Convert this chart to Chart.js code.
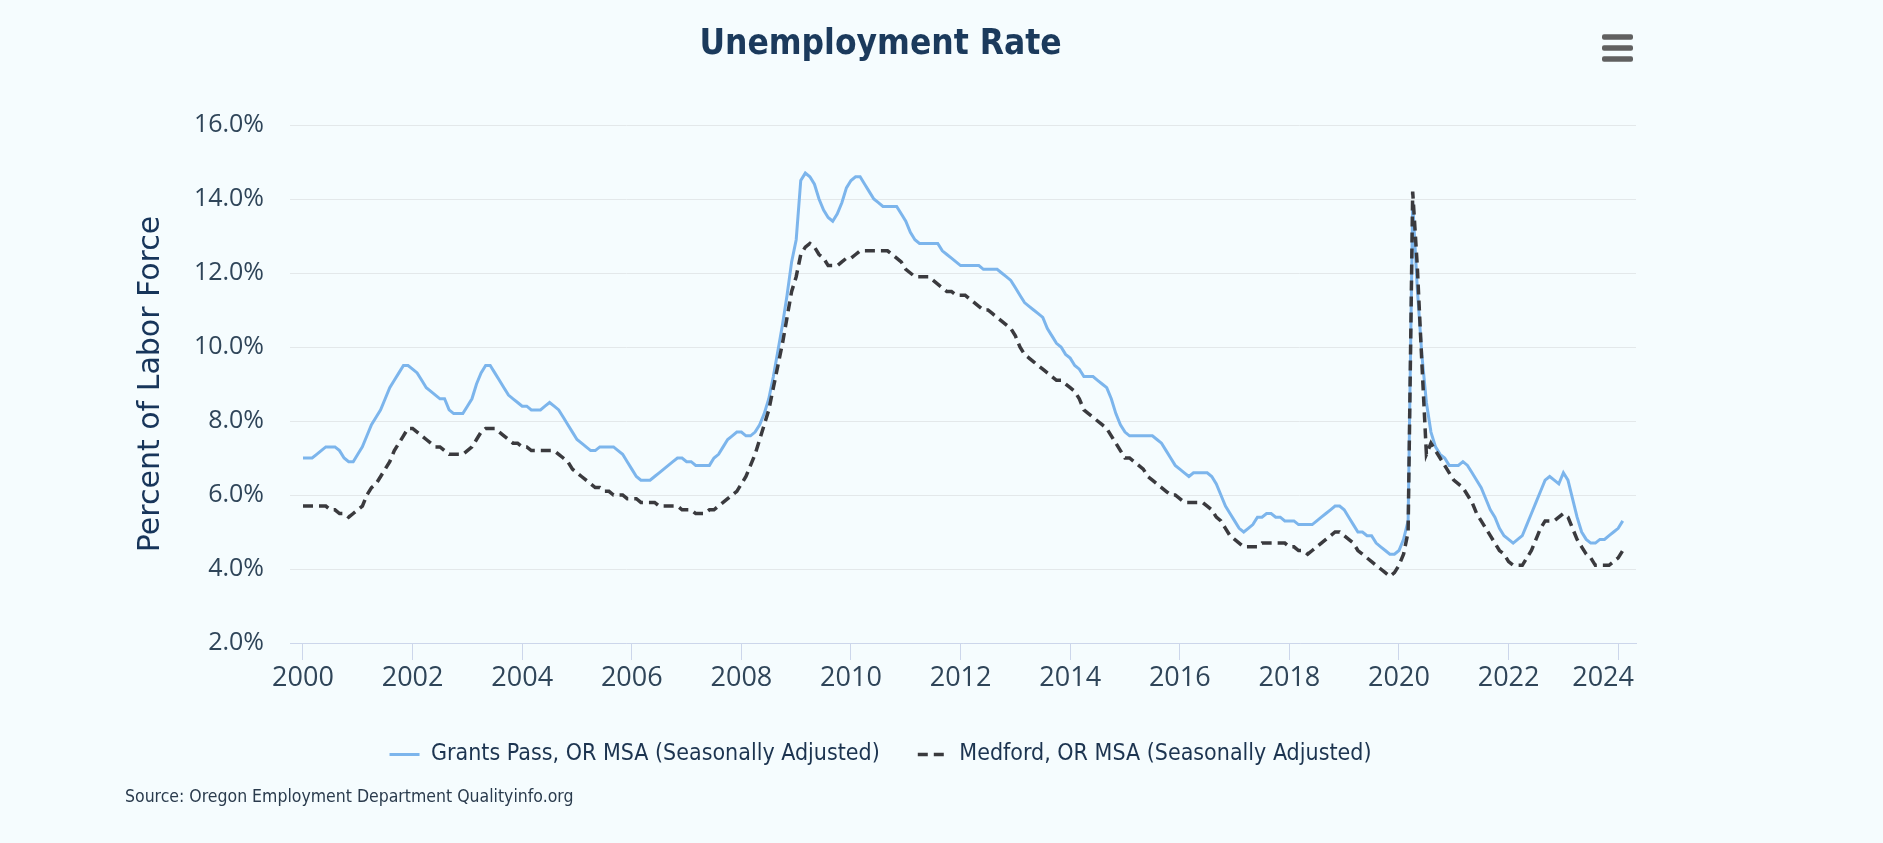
<!DOCTYPE html>
<html>
<head>
<meta charset="utf-8">
<script src="https://cdn.jsdelivr.net/npm/chart.js@4.4.1/dist/chart.umd.min.js"></script>
<style>
  html, body { margin: 0; padding: 0; background: #f5fcfe; }
  #wrap { width: 1883px; height: 843px; position: relative; }
  canvas { display: block; }
</style>
</head>
<body>
<div id="wrap"><canvas id="c" width="1883" height="843"></canvas></div>
<script>
// ---- Data (monthly, Jan 2000 .. Feb 2024) ----
const startYear = 2000;
const seriesNames = [
  'Grants Pass, OR MSA (Seasonally Adjusted)',
  'Medford, OR MSA (Seasonally Adjusted)'
];
const grantsPass = [
  7.0, 7.0, 7.0, 7.1, 7.2, 7.3, 7.3, 7.3, 7.2, 7.0, 6.9, 6.9,        // 2000
  7.1, 7.3, 7.6, 7.9, 8.1, 8.3, 8.6, 8.9, 9.1, 9.3, 9.5, 9.5,        // 2001
  9.4, 9.3, 9.1, 8.9, 8.8, 8.7, 8.6, 8.6, 8.3, 8.2, 8.2, 8.2,        // 2002
  8.4, 8.6, 9.0, 9.3, 9.5, 9.5, 9.3, 9.1, 8.9, 8.7, 8.6, 8.5,        // 2003
  8.4, 8.4, 8.3, 8.3, 8.3, 8.4, 8.5, 8.4, 8.3, 8.1, 7.9, 7.7,        // 2004
  7.5, 7.4, 7.3, 7.2, 7.2, 7.3, 7.3, 7.3, 7.3, 7.2, 7.1, 6.9,        // 2005
  6.7, 6.5, 6.4, 6.4, 6.4, 6.5, 6.6, 6.7, 6.8, 6.9, 7.0, 7.0,        // 2006
  6.9, 6.9, 6.8, 6.8, 6.8, 6.8, 7.0, 7.1, 7.3, 7.5, 7.6, 7.7,        // 2007
  7.7, 7.6, 7.6, 7.7, 7.9, 8.2, 8.6, 9.2, 9.9, 10.6, 11.4, 12.3,     // 2008
  12.9, 14.5, 14.7, 14.6, 14.4, 14.0, 13.7, 13.5, 13.4, 13.6, 13.9, 14.3, // 2009
  14.5, 14.6, 14.6, 14.4, 14.2, 14.0, 13.9, 13.8, 13.8, 13.8, 13.8, 13.6, // 2010
  13.4, 13.1, 12.9, 12.8, 12.8, 12.8, 12.8, 12.8, 12.6, 12.5, 12.4, 12.3, // 2011
  12.2, 12.2, 12.2, 12.2, 12.2, 12.1, 12.1, 12.1, 12.1, 12.0, 11.9, 11.8, // 2012
  11.6, 11.4, 11.2, 11.1, 11.0, 10.9, 10.8, 10.5, 10.3, 10.1, 10.0, 9.8,  // 2013
  9.7, 9.5, 9.4, 9.2, 9.2, 9.2, 9.1, 9.0, 8.9, 8.6, 8.2, 7.9,        // 2014
  7.7, 7.6, 7.6, 7.6, 7.6, 7.6, 7.6, 7.5, 7.4, 7.2, 7.0, 6.8,        // 2015
  6.7, 6.6, 6.5, 6.6, 6.6, 6.6, 6.6, 6.5, 6.3, 6.0, 5.7, 5.5,        // 2016
  5.3, 5.1, 5.0, 5.1, 5.2, 5.4, 5.4, 5.5, 5.5, 5.4, 5.4, 5.3,        // 2017
  5.3, 5.3, 5.2, 5.2, 5.2, 5.2, 5.3, 5.4, 5.5, 5.6, 5.7, 5.7,        // 2018
  5.6, 5.4, 5.2, 5.0, 5.0, 4.9, 4.9, 4.7, 4.6, 4.5, 4.4, 4.4,        // 2019
  4.5, 4.8, 5.3, 13.9, 11.6, 9.8, 8.5, 7.7, 7.3, 7.1, 7.0, 6.8,      // 2020
  6.8, 6.8, 6.9, 6.8, 6.6, 6.4, 6.2, 5.9, 5.6, 5.4, 5.1, 4.9,        // 2021
  4.8, 4.7, 4.8, 4.9, 5.2, 5.5, 5.8, 6.1, 6.4, 6.5, 6.4, 6.3,        // 2022
  6.6, 6.4, 5.9, 5.4, 5.0, 4.8, 4.7, 4.7, 4.8, 4.8, 4.9, 5.0,        // 2023
  5.1, 5.3                                                           // 2024
];
const medford = [
  5.7, 5.7, 5.7, 5.7, 5.7, 5.7, 5.6, 5.6, 5.5, 5.5, 5.4, 5.5,        // 2000
  5.6, 5.7, 6.0, 6.2, 6.3, 6.5, 6.7, 6.9, 7.2, 7.4, 7.6, 7.8,        // 2001
  7.8, 7.7, 7.6, 7.5, 7.4, 7.3, 7.3, 7.2, 7.1, 7.1, 7.1, 7.1,        // 2002
  7.2, 7.3, 7.5, 7.7, 7.8, 7.8, 7.8, 7.7, 7.6, 7.5, 7.4, 7.4,        // 2003
  7.3, 7.3, 7.2, 7.2, 7.2, 7.2, 7.2, 7.2, 7.1, 7.0, 6.9, 6.7,        // 2004
  6.6, 6.5, 6.4, 6.3, 6.2, 6.2, 6.1, 6.1, 6.0, 6.0, 6.0, 5.9,        // 2005
  5.9, 5.9, 5.8, 5.8, 5.8, 5.8, 5.7, 5.7, 5.7, 5.7, 5.7, 5.6,        // 2006
  5.6, 5.6, 5.5, 5.5, 5.5, 5.6, 5.6, 5.7, 5.8, 5.9, 6.0, 6.1,        // 2007
  6.3, 6.5, 6.8, 7.1, 7.5, 7.9, 8.3, 8.9, 9.5, 10.1, 10.8, 11.5,     // 2008
  11.9, 12.5, 12.7, 12.8, 12.7, 12.5, 12.4, 12.2, 12.2, 12.2, 12.3, 12.4, // 2009
  12.4, 12.5, 12.6, 12.6, 12.6, 12.6, 12.6, 12.6, 12.6, 12.5, 12.4, 12.3, // 2010
  12.1, 12.0, 11.9, 11.9, 11.9, 11.9, 11.8, 11.7, 11.6, 11.5, 11.5, 11.4, // 2011
  11.4, 11.4, 11.3, 11.2, 11.1, 11.0, 11.0, 10.9, 10.8, 10.7, 10.6, 10.5, // 2012
  10.3, 10.0, 9.8, 9.7, 9.6, 9.5, 9.4, 9.3, 9.2, 9.1, 9.1, 9.0,      // 2013
  8.9, 8.8, 8.6, 8.3, 8.2, 8.1, 8.0, 7.9, 7.8, 7.6, 7.4, 7.2,        // 2014
  7.0, 7.0, 6.9, 6.8, 6.7, 6.5, 6.4, 6.3, 6.2, 6.1, 6.0, 6.0,        // 2015
  5.9, 5.8, 5.8, 5.8, 5.8, 5.8, 5.7, 5.6, 5.4, 5.3, 5.1, 4.9,        // 2016
  4.8, 4.7, 4.6, 4.6, 4.6, 4.6, 4.7, 4.7, 4.7, 4.7, 4.7, 4.7,        // 2017
  4.6, 4.6, 4.5, 4.5, 4.4, 4.5, 4.6, 4.7, 4.8, 4.9, 5.0, 5.0,        // 2018
  4.9, 4.8, 4.7, 4.5, 4.4, 4.3, 4.2, 4.1, 4.0, 3.9, 3.8, 3.9,        // 2019
  4.1, 4.4, 5.0, 14.2, 12.2, 9.6, 7.1, 7.4, 7.2, 7.0, 6.8, 6.6,      // 2020
  6.4, 6.3, 6.2, 6.0, 5.8, 5.5, 5.3, 5.1, 4.9, 4.7, 4.5, 4.4,        // 2021
  4.2, 4.1, 4.1, 4.1, 4.3, 4.5, 4.8, 5.1, 5.3, 5.3, 5.3, 5.4,        // 2022
  5.5, 5.4, 5.1, 4.8, 4.6, 4.4, 4.3, 4.1, 4.1, 4.1, 4.1, 4.2,        // 2023
  4.3, 4.5                                                           // 2024
];
const xTickYears = [2000, 2002, 2004, 2006, 2008, 2010, 2012, 2014, 2016, 2018, 2020, 2022, 2024];
const yTickValues = [2, 4, 6, 8, 10, 12, 14, 16];
const titleText = 'Unemployment Rate';
const yAxisTitle = 'Percent of Labor Force';
const sourceText = 'Source: Oregon Employment Department Qualityinfo.org';

// ---- Build ----
const toPoints = arr => arr.map((v, i) => ({ x: startYear + i / 12, y: v }));

const bgPlugin = {
  id: 'bg',
  beforeDraw(chart) {
    const ctx = chart.ctx;
    ctx.save();
    ctx.fillStyle = '#f5fcfe';
    ctx.fillRect(0, 0, chart.width, chart.height);
    ctx.restore();
  }
};
// keep the last x label inside the plot edge (like the original's justified label)
const justifyLastXLabel = {
  id: 'justifyLastXLabel',
  beforeDraw(chart) {
    const sc = chart.scales.x;
    const items = sc.getLabelItems(chart.chartArea);
    if (!items || !items.length) return;
    const last = items[items.length - 1];
    const ctx = chart.ctx;
    ctx.save();
    ctx.font = last.font.string;
    const w = ctx.measureText(String(last.label)).width;
    ctx.restore();
    const maxX = sc.right - w / 2 - 2;
    if (last.options.translation[0] > maxX) last.options.translation[0] = maxX;
  }
};
const menuPlugin = {
  id: 'menuIcon',
  afterDraw(chart) {
    const ctx = chart.ctx;
    const right = chart.chartArea.right - 3;
    ctx.save();
    ctx.fillStyle = '#606060';
    [37, 48, 59].forEach(cy => {
      ctx.beginPath();
      ctx.roundRect(right - 31, cy - 2.75, 31, 5.5, 2);
      ctx.fill();
    });
    ctx.restore();
  }
};

new Chart(document.getElementById('c'), {
  type: 'line',
  data: {
    datasets: [
      {
        label: seriesNames[0],
        data: toPoints(grantsPass),
        borderColor: '#7cb5ec',
        backgroundColor: '#7cb5ec',
        borderWidth: 3,
        pointRadius: 0,
        pointHoverRadius: 0,
        tension: 0,
        order: 1
      },
      {
        label: seriesNames[1],
        data: toPoints(medford),
        borderColor: '#3a3a3e',
        backgroundColor: '#3a3a3e',
        borderWidth: 3.5,
        borderDash: [10, 6],
        pointRadius: 0,
        pointHoverRadius: 0,
        tension: 0,
        order: 0
      }
    ]
  },
  options: {
    responsive: false,
    devicePixelRatio: 1,
    animation: false,
    events: [],
    layout: { padding: { left: 125, right: 247, top: 0, bottom: 0 } },
    scales: {
      x: {
        type: 'linear',
        min: 1999.763,
        max: 2024.325,
        afterBuildTicks: axis => { axis.ticks = xTickYears.map(v => ({ value: v })); },
        afterFit: scale => { scale.height = 62; },
        grid: { drawOnChartArea: false, drawTicks: true, tickLength: 17, color: '#ccd6eb' },
        border: { display: true, color: '#ccd6eb', width: 1 },
        ticks: {
          padding: 2,
          maxRotation: 0,
          autoSkip: false,
          color: '#2f4559',
          font: { family: "'Open Sans', sans-serif", size: 27 },
          callback: v => String(v)
        }
      },
      y: {
        min: 2,
        max: 16,
        afterBuildTicks: axis => { axis.ticks = yTickValues.map(v => ({ value: v })); },
        afterFit: scale => { scale.width = 165; },
        grid: { color: '#e3e8ea', drawTicks: false, lineWidth: 1 },
        border: { display: false },
        ticks: {
          padding: 26,
          color: '#2f4559',
          font: { family: "'Open Sans', sans-serif", size: 25 },
          callback: v => v.toFixed(1) + '%'
        },
        title: {
          display: true,
          text: yAxisTitle,
          color: '#17355a',
          font: { family: "'DejaVu Sans', sans-serif", size: 30 },
          padding: { top: 8, bottom: 0 }
        }
      }
    },
    plugins: {
      title: {
        display: true,
        text: titleText,
        color: '#1b3a5c',
        font: { family: "'DejaVu Sans Condensed', 'DejaVu Sans', sans-serif", size: 35, weight: 'bold' },
        padding: { top: 24, bottom: 59 }
      },
      subtitle: {
        display: true,
        text: sourceText,
        position: 'bottom',
        align: 'start',
        color: '#2a3b4d',
        font: { family: "'DejaVu Sans Condensed', 'DejaVu Sans', sans-serif", size: 17.5 },
        padding: { top: 11, bottom: 35 }
      },
      legend: {
        display: true,
        position: 'bottom',
        align: 'center',
        labels: {
          usePointStyle: true,
          pointStyle: 'line',
          pointStyleWidth: 30,
          padding: 38,
          color: '#1c3450',
          font: { family: "'DejaVu Sans Condensed', 'DejaVu Sans', sans-serif", size: 23 },
          generateLabels: chart => {
            const items = Chart.defaults.plugins.legend.labels.generateLabels(chart);
            items.forEach(it => {
              const ds = chart.data.datasets[it.datasetIndex];
              it.lineDash = ds.borderDash || [];
              it.lineWidth = ds.borderWidth;
              it.strokeStyle = ds.borderColor;
            });
            return items;
          },
          sort: (a, b) => a.datasetIndex - b.datasetIndex
        }
      },
      tooltip: { enabled: false }
    }
  },
  plugins: [bgPlugin, justifyLastXLabel, menuPlugin]
});
</script>
</body>
</html>
